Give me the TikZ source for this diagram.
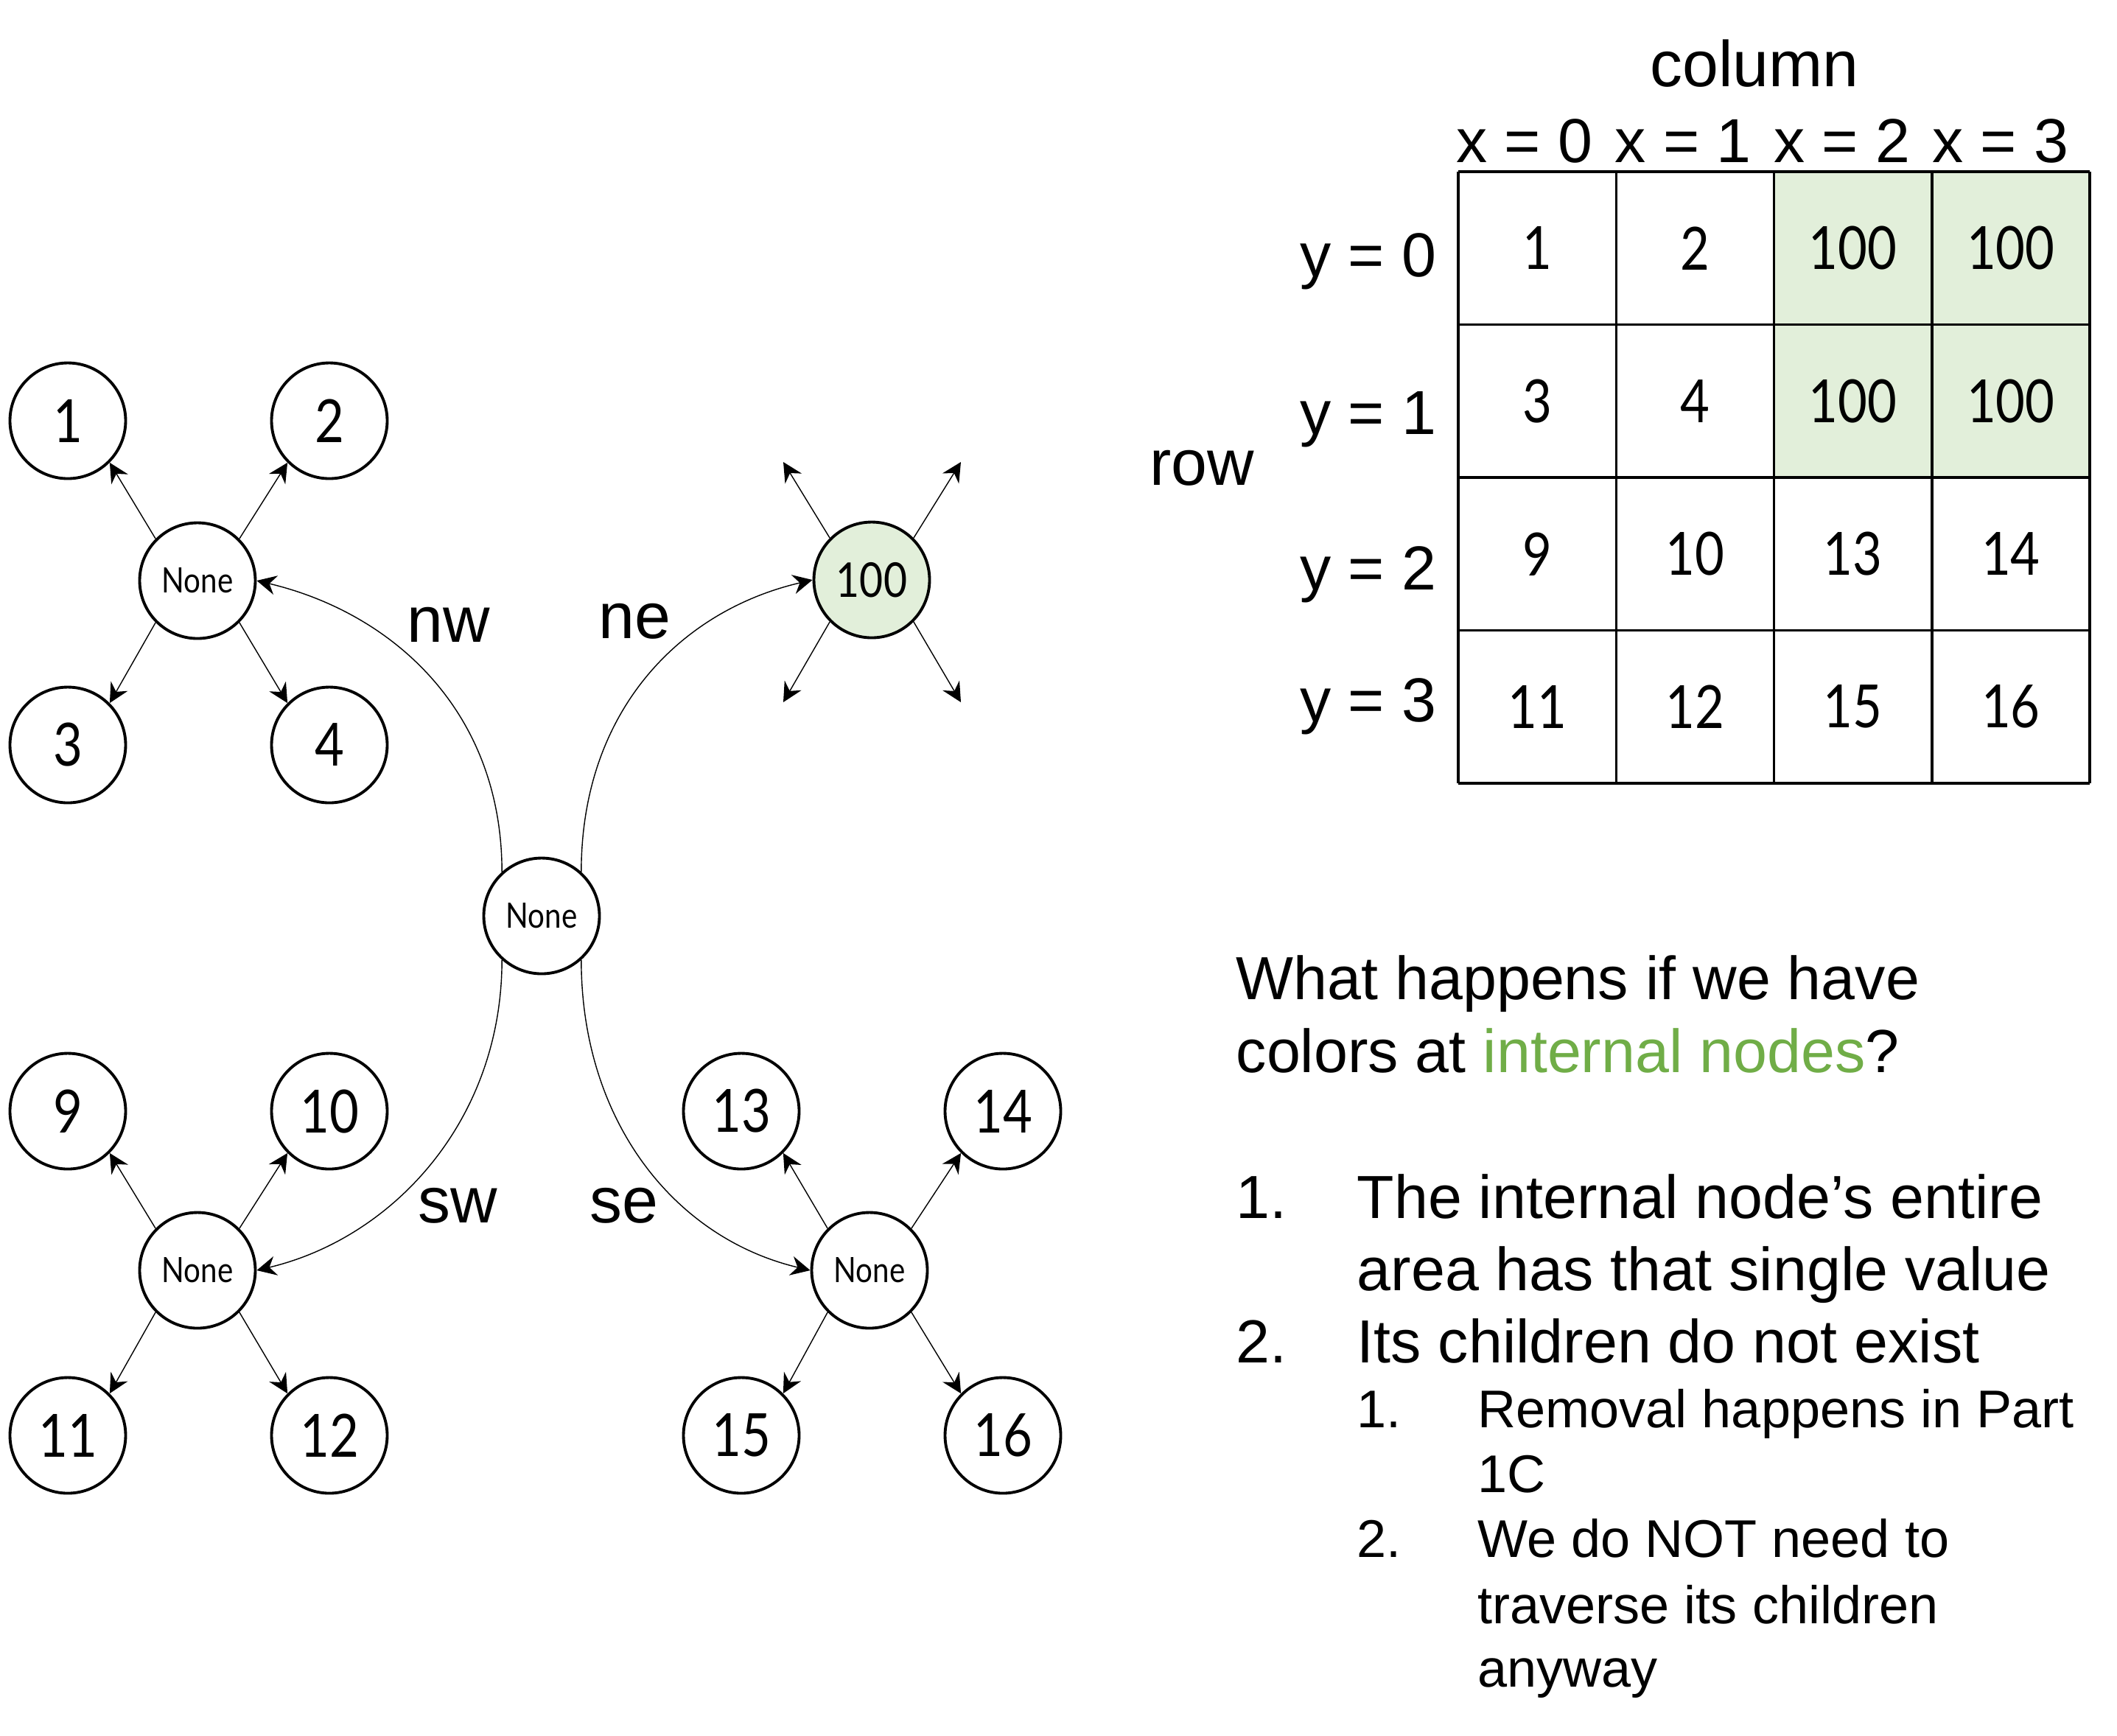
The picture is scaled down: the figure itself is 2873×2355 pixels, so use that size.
\documentclass[tikz,border=0pt]{standalone}
\usepackage{fontspec}
\setmainfont{Liberation Sans}
\newfontfamily\gillfont[FakeStretch=0.85]{Lato}
\usetikzlibrary{arrows.meta}

\definecolor{leafgreen}{HTML}{E2EFDA}
\definecolor{textgreen}{HTML}{70AD47}

\tikzset{
  qnode/.style={circle, draw, line width=1.1pt, minimum size=15.7mm, inner sep=0pt,
    font=\gillfont\fontsize{23}{23}\selectfont},
  nonenode/.style={qnode, font=\gillfont\fontsize{13.5}{13.5}\selectfont},
  kid/.style={-{Stealth[length=7.5pt,width=7.5pt,inset=2.5pt]}, line width=0.4pt},
  gridline/.style={line width=1pt},
  cellnum/.style={inner sep=0pt, font=\gillfont\fontsize{23}{23}\selectfont},
  dirlbl/.style={anchor=base, inner sep=0pt, font=\fontsize{25}{25}\selectfont},
  axislbl/.style={inner sep=0pt, font=\fontsize{24}{24}\selectfont},
  bodytxt/.style={anchor=base west, inner sep=0pt, font=\fontsize{23.5}{28}\selectfont},
  subtxt/.style={anchor=base west, inner sep=0pt, font=\fontsize{20.5}{24}\selectfont}
}

\begin{document}
\begin{tikzpicture}[x=0.1mm, y=-0.1mm]
	\useasboundingbox[fill=white] (0,0) rectangle (2873,2355);
	% the quadtree
	\node[nonenode] (root) at (735,1243) {None};
	\node[nonenode] (nwn) at (268,788) {None};
	\node[qnode, fill=leafgreen, font=\gillfont\fontsize{18.5}{18.5}\selectfont] (nen) at (1183,787) {100};
	\node[nonenode] (swn) at (268,1724) {None};
	\node[nonenode] (sen) at (1180,1724) {None};
	% leaves
	\node[qnode] (c1) at (92,571) {1};
	\node[qnode] (c2) at (447,571) {2};
	\node[qnode] (c3) at (92,1011) {3};
	\node[qnode] (c4) at (447,1011) {4};
	\node[qnode] (c9) at (92,1508) {9};
	\node[qnode] (c10) at (447,1508) {10};
	\node[qnode] (c11) at (92,1948) {11};
	\node[qnode] (c12) at (447,1948) {12};
	\node[qnode] (c13) at (1006,1508) {13};
	\node[qnode] (c14) at (1361,1508) {14};
	\node[qnode] (c15) at (1006,1948) {15};
	\node[qnode] (c16) at (1361,1948) {16};
	% loose ends of the green node
	\coordinate (g1) at (1063,627);
	\coordinate (g2) at (1304,627);
	\coordinate (g3) at (1063,953);
	\coordinate (g4) at (1304,953);
	\foreach \p/\c/\a/\b in {nwn/c1/135/-45,nwn/c2/45/-135,nwn/c3/-135/45,nwn/c4/-45/135,
	                         swn/c9/135/-45,swn/c10/45/-135,swn/c11/-135/45,swn/c12/-45/135,
	                         sen/c13/135/-45,sen/c14/45/-135,sen/c15/-135/45,sen/c16/-45/135}
		\draw[kid] (\p.\a) -- (\c.\b);
	\foreach \c/\a in {g1/135,g2/45,g3/-135,g4/-45}
		\draw[kid] (nen.\a) -- (\c);
	% root to its four children
	\draw[kid] (root.132) .. controls +(0,-218) and +(185,44) .. (nwn.east);
	\draw[kid] (root.48) .. controls +(0,-218) and +(-180,42) .. (nen.west);
	\draw[kid] (root.-132) .. controls +(0,218) and +(185,-44) .. (swn.east);
	\draw[kid] (root.-48) .. controls +(0,218) and +(-185,-44) .. (sen.west);
	\node[dirlbl] (lnw) at (609,871) {nw};
	\node[dirlbl] (lne) at (861,866) {ne};
	\node[dirlbl] (lsw) at (621,1659) {sw};
	\node[dirlbl] (lse) at (847,1659) {se};
	% the grid
	\fill[leafgreen] (2407.5,233) rectangle (2836,648);
	\foreach \xx in {1979,2193.25,2407.5,2621.75,2836}
		\draw[gridline] (\xx,233) -- (\xx,1063);
	\foreach \yy in {233,440.5,648,855.5,1063}
		\draw[gridline] (1979,\yy) -- (2836,\yy);
	\foreach \v [count=\i from 0] in {1,2,100,100,3,4,100,100,9,10,13,14,11,12,15,16}{
		\pgfmathsetmacro\cx{2086.1+214.25*mod(\i,4)}
		\pgfmathsetmacro\cy{336.75+207.5*int(\i/4)}
		\node[cellnum] (cell\i) at (\cx,\cy) {\v};
	}
	\node[axislbl, anchor=base, font=\fontsize{25}{25}\selectfont] (colhead) at (2381,117) {column};
	\foreach \k in {0,...,3}
		\node[axislbl, anchor=base] (xh\k) at ({2069+215.3*\k},220) {x = \k};
	\node[axislbl, anchor=base east] (yh0) at (1950,375) {y = 0};
	\node[axislbl, anchor=base east] (yh1) at (1950,589) {y = 1};
	\node[axislbl, anchor=base east] (yh2) at (1950,800) {y = 2};
	\node[axislbl, anchor=base east] (yh3) at (1950,979) {y = 3};
	\node[axislbl, anchor=base, font=\fontsize{25}{25}\selectfont] (rowhead) at (1631,658) {row};
	% the question
	\node[bodytxt] (q1) at (1677,1356) {What happens if we have};
	\node[bodytxt] (q2) at (1677,1455) {colors at \textcolor{textgreen}{internal nodes}?};
	\node[bodytxt] (n1) at (1677,1653) {1.};
	\node[bodytxt] (t1a) at (1841,1653) {The internal node’s entire};
	\node[bodytxt] (t1b) at (1841,1751) {area has that single value};
	\node[bodytxt] (n2) at (1677,1849) {2.};
	\node[bodytxt] (t2) at (1841,1849) {Its children do not exist};
	\node[subtxt] (s1) at (1841,1937) {1.};
	\node[subtxt] (s1a) at (2005,1937) {Removal happens in Part};
	\node[subtxt] (s1b) at (2005,2025) {1C};
	\node[subtxt] (s2) at (1841,2113) {2.};
	\node[subtxt] (s2a) at (2005,2113) {We do NOT need to};
	\node[subtxt] (s2b) at (2005,2203) {traverse its children};
	\node[subtxt] (s2c) at (2005,2289) {anyway};
\end{tikzpicture}
\end{document}
